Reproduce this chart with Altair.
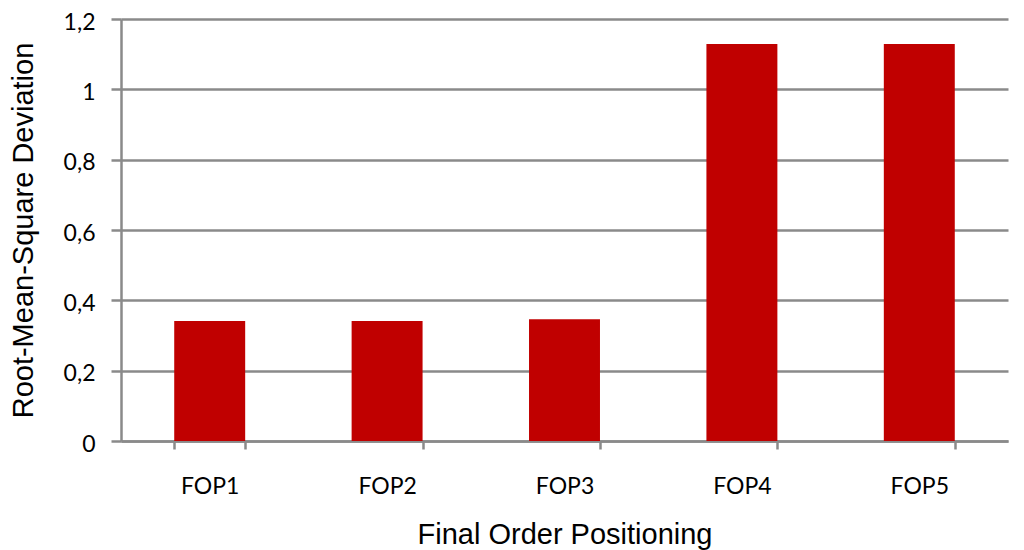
import altair as alt
import pandas as pd

categories = ["FOP1", "FOP2", "FOP3", "FOP4", "FOP5"]
rmsd = [0.341, 0.341, 0.346, 1.129, 1.129]
y_ticks = [0, 0.2, 0.4, 0.6, 0.8, 1.0, 1.2]

df = pd.DataFrame({"cat": categories, "val": rmsd})

grey = "#8a8a8a"

chart = alt.Chart(df).mark_bar(color="#C00000").encode(
    x=alt.X(
        "cat:N",
        sort=categories,
        scale=alt.Scale(paddingInner=0.6, paddingOuter=0.3),
        axis=alt.Axis(
            title="Final Order Positioning",
            labelAngle=0,
            labelFont="Lato",
            labelFontSize=23,
            labelColor="#000000",
            labelPadding=26,
            tickBand="extent",
            tickSize=8,
            tickWidth=2.5,
            tickColor=grey,
            domainColor=grey,
            domainWidth=2.5,
            grid=False,
            titleFont="Liberation Sans",
            titleFontSize=29,
            titleFontWeight="normal",
            titleColor="#000000",
            titlePadding=22,
        ),
    ),
    y=alt.Y(
        "val:Q",
        scale=alt.Scale(domain=[0, 1.2], nice=False),
        axis=alt.Axis(
            title="Root-Mean-Square Deviation",
            values=y_ticks,
            labelExpr="replace(toString(datum.value), '.', ',')",
            labelFont="Lato",
            labelFontSize=23,
            labelColor="#000000",
            labelPadding=16,
            labelOffset=3,
            tickSize=10,
            tickWidth=2.5,
            tickColor=grey,
            domainColor=grey,
            domainWidth=2.5,
            grid=True,
            gridColor=grey,
            gridWidth=2.5,
            titleFont="Liberation Sans",
            titleFontSize=29,
            titleFontWeight="normal",
            titleColor="#000000",
            titlePadding=25,
        ),
    ),
).properties(
    width=887,
    height=422,
    autosize=alt.AutoSizeParams(type="none"),
    padding={"left": 113, "top": 11, "right": 8, "bottom": 109},
).configure_view(stroke=None)

chart.save("out.html", embed_options={"renderer": "svg", "actions": False})
